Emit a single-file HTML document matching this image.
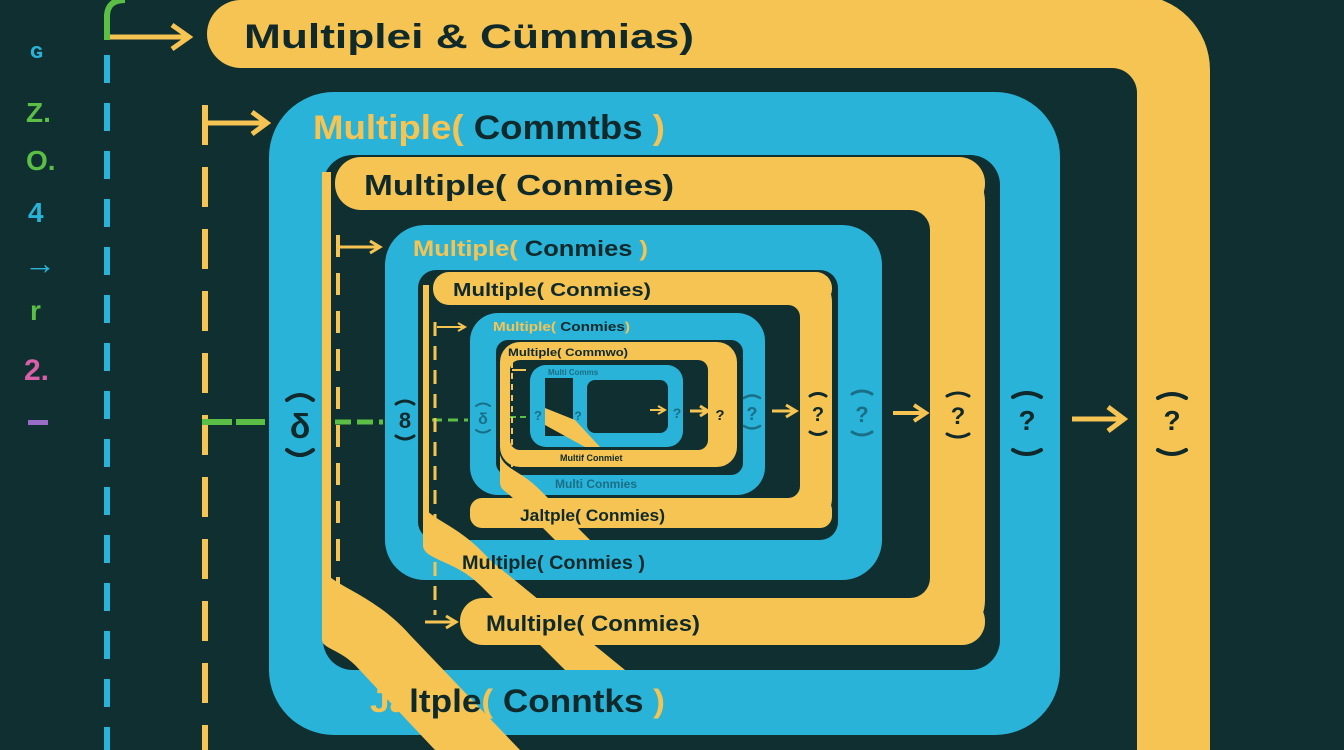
<!DOCTYPE html>
<html><head><meta charset="utf-8"><style>
html,body{margin:0;padding:0;background:#0f2f30;overflow:hidden;width:1344px;height:750px}
svg{display:block}
text{font-family:"Liberation Sans","DejaVu Sans",sans-serif;font-weight:bold}
</style></head><body>
<svg width="1344" height="750" viewBox="0 0 1344 750" xmlns="http://www.w3.org/2000/svg">
<rect width="1344" height="750" fill="#0f2f30"/>
<rect x="207" y="0" width="800" height="68" rx="34" fill="#f6c453"/>
<rect x="700" y="-5" width="510" height="900" rx="75" fill="#f6c453"/>
<rect x="100" y="68" width="1037" height="800" rx="25" fill="#0f2f30"/>
<rect x="269" y="92" width="791" height="643" rx="65" fill="#29b3d8"/>
<rect x="323" y="155" width="677" height="515" rx="30" fill="#0f2f30"/>
<rect x="335" y="157" width="650" height="53" rx="26" fill="#f6c453"/>
<rect x="700" y="157" width="285" height="488" rx="45" fill="#f6c453"/>
<rect x="460" y="598" width="525" height="47" rx="23" fill="#f6c453"/>
<rect x="332" y="210" width="598" height="388" rx="20" fill="#0f2f30"/>
<rect x="322" y="172" width="9" height="430" fill="#f6c453"/>
<rect x="385" y="225" width="497" height="355" rx="40" fill="#29b3d8"/>
<rect x="418" y="270" width="420" height="270" rx="18" fill="#0f2f30"/>
<rect x="433" y="272" width="399" height="33" rx="16" fill="#f6c453"/>
<rect x="700" y="272" width="132" height="256" rx="30" fill="#f6c453"/>
<rect x="470" y="498" width="362" height="30" rx="12" fill="#f6c453"/>
<rect x="429" y="305" width="371" height="193" rx="12" fill="#0f2f30"/>
<rect x="423" y="285" width="6" height="232" fill="#f6c453"/>
<rect x="470" y="313" width="295" height="182" rx="28" fill="#29b3d8"/>
<rect x="496" y="340" width="247" height="135" rx="12" fill="#0f2f30"/>
<rect x="500" y="342" width="237" height="125" rx="20" fill="#f6c453"/>
<rect x="510" y="360" width="198" height="90" rx="10" fill="#0f2f30"/>
<rect x="530" y="365" width="153" height="82" rx="16" fill="#29b3d8"/>
<rect x="545" y="378" width="28" height="58" fill="#0f2f30"/>
<rect x="587" y="380" width="81" height="53" rx="8" fill="#0f2f30"/>

<path d="M322,565 C325,585 370,590 410,635 L520,750 L435,750 L355,665 C340,650 322,648 322,640 Z" fill="#f6c453"/>
<path d="M423,505 C430,520 460,525 490,560 L625,670 L565,670 L480,585 C455,560 423,560 423,545 Z" fill="#f6c453"/>
<path d="M500,455 C505,470 520,470 540,490 L590,540 L555,540 L515,500 C505,490 500,490 500,482 Z" fill="#f6c453"/>
<path d="M545,408 L575,420 L600,447 L585,447 L545,425 Z" fill="#f6c453"/>

<line x1="107" y1="55" x2="107" y2="750" stroke="#29b3d8" stroke-width="6" stroke-dasharray="28 20"/>
<path d="M107,40 L107,15 Q108,0 125,0" fill="none" stroke="#5cbf45" stroke-width="6"/>
<line x1="110" y1="37" x2="185" y2="37" stroke="#f6c453" stroke-width="5"/>
<path d="M172,25 L189,37 L172,49" fill="none" stroke="#f6c453" stroke-width="5"/>
<line x1="205" y1="105" x2="205" y2="750" stroke="#f6c453" stroke-width="6" stroke-dasharray="40 22"/>
<line x1="203" y1="123" x2="263" y2="123" stroke="#f6c453" stroke-width="5"/>
<path d="M252,112 L267,123 L252,134" fill="none" stroke="#f6c453" stroke-width="5"/>
<line x1="202" y1="422" x2="265" y2="422" stroke="#5cbf45" stroke-width="6" stroke-dasharray="30 4"/>
<line x1="335" y1="422" x2="383" y2="422" stroke="#5cbf45" stroke-width="5" stroke-dasharray="16 6"/>
<line x1="432" y1="420" x2="468" y2="420" stroke="#5cbf45" stroke-width="3" stroke-dasharray="10 6"/>
<line x1="510" y1="417" x2="530" y2="417" stroke="#5cbf45" stroke-width="2" stroke-dasharray="6 4"/>
<line x1="338" y1="235" x2="338" y2="595" stroke="#f6c453" stroke-width="4" stroke-dasharray="22 16"/>
<line x1="340" y1="247" x2="378" y2="247" stroke="#f6c453" stroke-width="3"/>
<path d="M370,241 L380,247 L370,253" fill="none" stroke="#f6c453" stroke-width="3"/>
<line x1="435" y1="322" x2="435" y2="615" stroke="#f6c453" stroke-width="3" stroke-dasharray="14 10"/>
<line x1="437" y1="327" x2="463" y2="327" stroke="#f6c453" stroke-width="2"/>
<path d="M458,323 L465,327 L458,331" fill="none" stroke="#f6c453" stroke-width="2"/>
<line x1="425" y1="622" x2="453" y2="622" stroke="#f6c453" stroke-width="3"/>
<path d="M446,616 L456,622 L446,628" fill="none" stroke="#f6c453" stroke-width="3"/>
<line x1="512" y1="362" x2="512" y2="490" stroke="#f6c453" stroke-width="2" stroke-dasharray="6 5"/>
<line x1="512" y1="370" x2="526" y2="370" stroke="#f6c453" stroke-width="2"/>

<g stroke="#f6c453" fill="none">
<line x1="1072" y1="419" x2="1120" y2="419" stroke-width="5"/><path d="M1108,407 L1124,419 L1108,431" stroke-width="5"/>
<line x1="893" y1="413" x2="922" y2="413" stroke-width="4"/><path d="M914,405 L926,413 L914,421" stroke-width="4"/>
<line x1="772" y1="411" x2="793" y2="411" stroke-width="3"/><path d="M786,405 L796,411 L786,417" stroke-width="3"/>
<line x1="690" y1="411" x2="706" y2="411" stroke-width="3"/><path d="M700,406 L708,411 L700,416" stroke-width="3"/>
<line x1="650" y1="410" x2="663" y2="410" stroke-width="2"/><path d="M658,406 L665,410 L658,414" stroke-width="2"/>
</g>

<text x="30" y="58" font-size="22" fill="#29b3d8">ɢ</text>
<text x="26" y="122" font-size="28" fill="#5cbf45">Z.</text>
<text x="26" y="170" font-size="28" fill="#5cbf45">O.</text>
<text x="28" y="222" font-size="28" fill="#29b3d8">4</text>
<text x="24" y="274" font-size="32" fill="#29b3d8">→</text>
<text x="30" y="320" font-size="28" fill="#5cbf45">r</text>
<text x="24" y="380" font-size="30" fill="#d95fa8">2.</text>
<rect x="28" y="420" width="20" height="5" fill="#9b6bc8"/>

<text x="244" y="48" font-size="34" fill="#10292b" textLength="450" lengthAdjust="spacingAndGlyphs">Multiplei &amp; Cümmias)</text>
<text x="313" y="139" font-size="34" fill="#f6c453" textLength="352" lengthAdjust="spacingAndGlyphs">Multiple(<tspan fill="#10292b"> Commtbs </tspan>)</text>
<text x="364" y="195" font-size="29" fill="#10292b" textLength="310" lengthAdjust="spacingAndGlyphs">Multiple( Conmies)</text>
<text x="413" y="256" font-size="22" fill="#f6c453" textLength="235" lengthAdjust="spacingAndGlyphs">Multiple(<tspan fill="#10292b"> Conmies </tspan>)</text>
<text x="453" y="296" font-size="18" fill="#10292b" textLength="198" lengthAdjust="spacingAndGlyphs">Multiple( Conmies)</text>
<text x="493" y="331" font-size="13" fill="#f6c453" textLength="137" lengthAdjust="spacingAndGlyphs">Multiple(<tspan fill="#10292b"> Conmies</tspan>)</text>
<text x="508" y="356" font-size="11" fill="#10292b" textLength="120" lengthAdjust="spacingAndGlyphs">Multiple( Commwo)</text>
<text x="548" y="375" font-size="8" fill="#1a6f86">Multi Comms</text>
<text x="560" y="461" font-size="9" fill="#10292b">Multif Conmiet</text>
<text x="555" y="488" font-size="12" fill="#1a6f86">Multi Conmies</text>
<text x="520" y="521" font-size="17" fill="#10292b" textLength="145" lengthAdjust="spacingAndGlyphs">Jaltple( Conmies)</text>
<text x="462" y="569" font-size="19" fill="#10292b" textLength="183" lengthAdjust="spacingAndGlyphs">Multiple( Conmies )</text>
<text x="486" y="631" font-size="22" fill="#10292b" textLength="214" lengthAdjust="spacingAndGlyphs">Multiple( Conmies)</text>
<text x="370" y="712" font-size="32" fill="#f6c453" textLength="295" lengthAdjust="spacingAndGlyphs">Ja<tspan fill="#10292b">ltple</tspan>(<tspan fill="#10292b"> Conntks </tspan>)</text>

<g fill="none" stroke-linecap="round">
<path d="M287,400 Q300,390 313,400 M287,450 Q300,460 313,450" stroke="#10292b" stroke-width="4"/>
<path d="M396,404 Q405,398 414,404 M396,436 Q405,442 414,436" stroke="#10292b" stroke-width="3"/>
<path d="M476,406 Q483,401 490,406 M476,430 Q483,435 490,430" stroke="#1a6f86" stroke-width="2"/>
<path d="M744,398 Q752,393 760,398 M744,426 Q752,431 760,426" stroke="#1a6f86" stroke-width="2.5"/>
<path d="M810,396 Q818,391 826,396 M810,432 Q818,437 826,432" stroke="#10292b" stroke-width="3"/>
<path d="M852,394 Q862,388 872,394 M852,432 Q862,438 872,432" stroke="#1a6f86" stroke-width="3"/>
<path d="M947,396 Q958,390 969,396 M947,434 Q958,440 969,434" stroke="#10292b" stroke-width="3"/>
<path d="M1013,397 Q1027,389 1041,397 M1013,450 Q1027,458 1041,450" stroke="#10292b" stroke-width="4"/>
<path d="M1158,398 Q1172,390 1186,398 M1158,450 Q1172,458 1186,450" stroke="#10292b" stroke-width="4"/>
</g>
<g text-anchor="middle">
<text x="300" y="438" font-size="34" fill="#10292b">δ</text>
<text x="405" y="428" font-size="22" fill="#10292b">8</text>
<text x="483" y="424" font-size="16" fill="#1a6f86">δ</text>
<text x="538" y="420" font-size="13" fill="#1a6f86">?</text>
<text x="578" y="420" font-size="12" fill="#1a6f86">?</text>
<text x="677" y="418" font-size="14" fill="#1a6f86">?</text>
<text x="720" y="420" font-size="15" fill="#10292b">?</text>
<text x="752" y="420" font-size="18" fill="#1a6f86">?</text>
<text x="818" y="421" font-size="20" fill="#10292b">?</text>
<text x="862" y="422" font-size="22" fill="#1a6f86">?</text>
<text x="958" y="424" font-size="24" fill="#10292b">?</text>
<text x="1027" y="430" font-size="28" fill="#10292b">?</text>
<text x="1172" y="430" font-size="28" fill="#10292b">?</text>
</g>
</svg>
</body></html>
